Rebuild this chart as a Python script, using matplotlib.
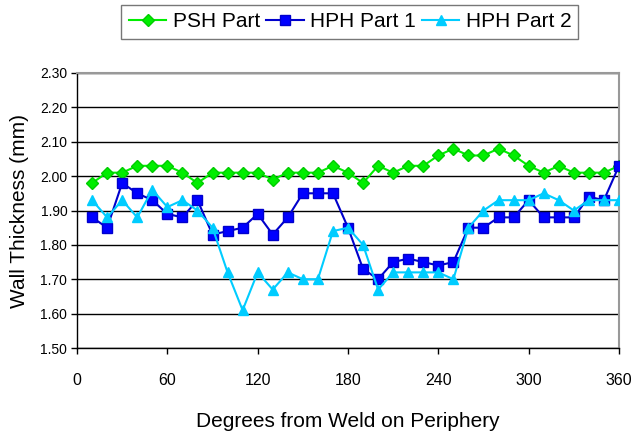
import matplotlib
matplotlib.use("Agg")
import matplotlib.pyplot as plt
import numpy as np

plt.rcParams['font.family'] = ['Liberation Sans', 'DejaVu Sans']

degrees = [10, 20, 30, 40, 50, 60, 70, 80, 90, 100, 110, 120, 130, 140, 150, 160, 170, 180,
           190, 200, 210, 220, 230, 240, 250, 260, 270, 280, 290, 300, 310, 320, 330, 340, 350, 360]
psh = [1.98, 2.01, 2.01, 2.03, 2.03, 2.03, 2.01, 1.98, 2.01, 2.01, 2.01, 2.01, 1.99, 2.01, 2.01, 2.01, 2.03, 2.01,
       1.98, 2.03, 2.01, 2.03, 2.03, 2.06, 2.08, 2.06, 2.06, 2.08, 2.06, 2.03, 2.01, 2.03, 2.01, 2.01, 2.01, 2.03]
hph1 = [1.88, 1.85, 1.98, 1.95, 1.93, 1.89, 1.88, 1.93, 1.83, 1.84, 1.85, 1.89, 1.83, 1.88, 1.95, 1.95, 1.95, 1.85,
        1.73, 1.70, 1.75, 1.76, 1.75, 1.74, 1.75, 1.85, 1.85, 1.88, 1.88, 1.93, 1.88, 1.88, 1.88, 1.94, 1.93, 2.03]
hph2 = [1.93, 1.88, 1.93, 1.88, 1.96, 1.91, 1.93, 1.90, 1.85, 1.72, 1.61, 1.72, 1.67, 1.72, 1.70, 1.70, 1.84, 1.85,
        1.80, 1.67, 1.72, 1.72, 1.72, 1.72, 1.70, 1.85, 1.90, 1.93, 1.93, 1.93, 1.95, 1.93, 1.90, 1.93, 1.93, 1.93]

x_ticks = [0, 60, 120, 180, 240, 300, 360]
y_ticks = [1.50, 1.60, 1.70, 1.80, 1.90, 2.00, 2.10, 2.20, 2.30]

fig = plt.figure(figsize=(6.34, 4.36), dpi=100)
ax = fig.add_axes([0.1215, 0.2018, 0.9763 - 0.1215, 0.8326 - 0.2018])

ax.plot(degrees, psh, color='#00EE00', marker='D', markersize=6, lw=1.5,
        markerfacecolor='#00EE00', markeredgecolor='#00CC00', label='PSH Part', zorder=3)
ax.plot(degrees, hph1, color='#0000CC', marker='s', markersize=7, lw=1.5,
        markerfacecolor='#0000FF', markeredgecolor='#0000CC', label='HPH Part 1', zorder=4)
ax.plot(degrees, hph2, color='#00CCFF', marker='^', markersize=7.5, lw=1.5,
        markerfacecolor='#00CCFF', markeredgecolor='#00CCFF', label='HPH Part 2', zorder=5)

ax.set_xlim(0, 360)
ax.set_ylim(1.50, 2.30)
ax.set_xticks(x_ticks)
ax.set_yticks(y_ticks)
ax.set_yticklabels([f"{v:.2f}" for v in y_ticks])
ax.tick_params(axis='both', direction='out', length=4, width=1, colors='black')
ax.tick_params(axis='x', labelsize=11.5, pad=14)
ax.tick_params(axis='y', labelsize=10, pad=3)
ax.grid(axis='y', color='black', lw=1)
ax.set_axisbelow(True)
for s in ['top', 'right']:
    ax.spines[s].set_color('#999999')
    ax.spines[s].set_linewidth(1.5)
for s in ['left', 'bottom']:
    ax.spines[s].set_color('black')
    ax.spines[s].set_linewidth(1)

ax.set_xlabel('Degrees from Weld on Periphery', fontsize=15, labelpad=17)
ax.set_ylabel('Wall Thickness (mm)', fontsize=15, labelpad=8)

leg = fig.legend(loc='upper center', bbox_to_anchor=(0.552, 0.9885), ncol=3, fontsize=15,
                 frameon=True, fancybox=False, edgecolor='#555555', handlelength=1.8,
                 handletextpad=0.3, columnspacing=0.3, borderpad=0.35, borderaxespad=0)
leg.get_frame().set_linewidth(1)

fig.savefig('out.png', dpi=100)
